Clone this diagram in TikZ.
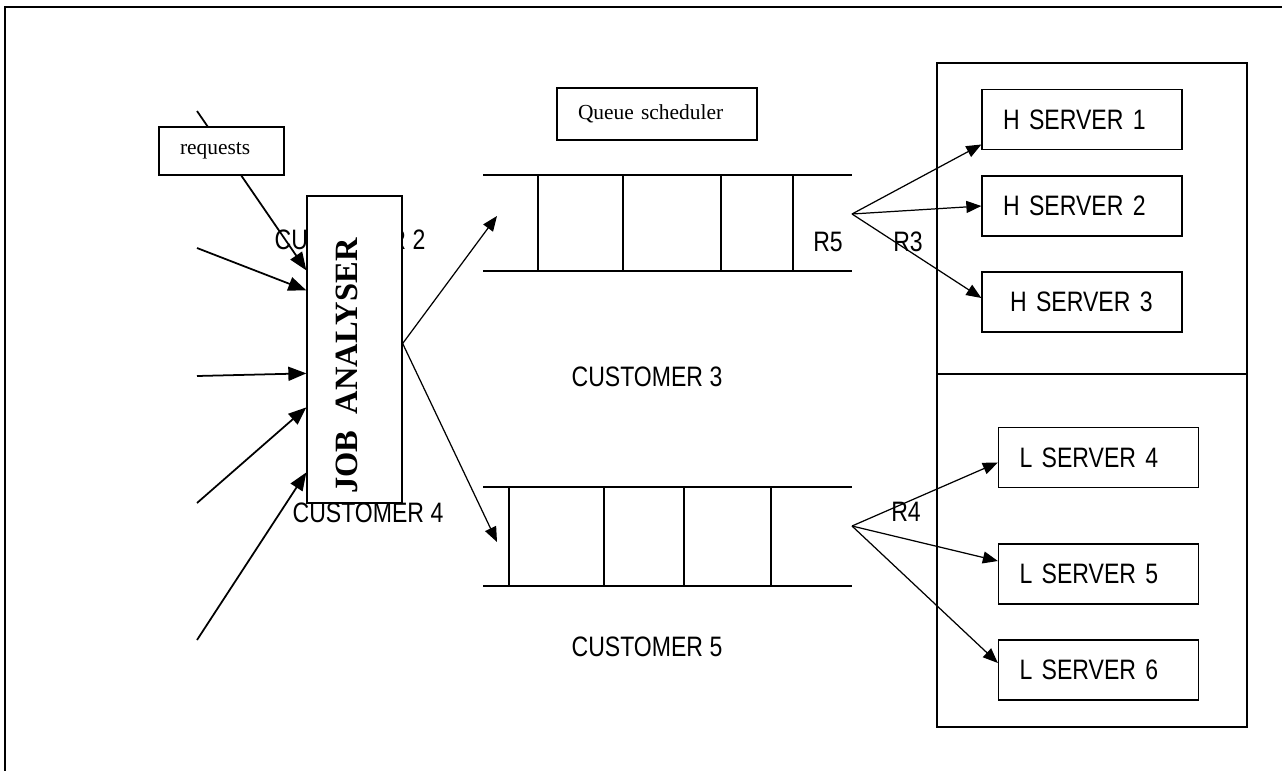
\documentclass[tikz,border=0pt]{standalone}
\usepackage{fontspec}
\setmainfont{Liberation Serif}
\newfontfamily\arialn[FakeStretch=0.82]{Liberation Sans}
\usetikzlibrary{calc, arrows.meta}

\begin{document}
\begin{tikzpicture}[x=0.02cm, y=-0.02cm,
    srv/.style={draw, fill=white, line width=0.75pt, inner xsep=0.42cm, inner ysep=0pt, align=left, text width=3.16cm, minimum height=1.2cm, font=\arialn\fontsize{16}{18}\selectfont},
    tbox/.style={srv, font=\fontsize{12.2}{14}\selectfont},
    lbl/.style={inner sep=0pt, font=\arialn\fontsize{16}{18}\selectfont},
    tip/.style={-{Triangle[length=0.3cm, width=0.24cm]}, line width=0.7pt},
    bigtip/.style={-{Triangle[length=0.36cm, width=0.28cm]}, line width=1pt},
    qline/.style={line width=0.75pt}]

    \useasboundingbox (0,0) rectangle (1282,771);

    % frame and server rack
    \draw[line width=0.9pt] (5,771) -- (5,7) -- (1282,7);
    \draw[qline] (937,63) rectangle (1247,727);
    \draw[qline] (937,374) -- (1247,374);

    \node[lbl] (cust2) at (350,240) {CUSTOMER 2};
    \node[lbl] (cust4) at (368,513) {CUSTOMER 4};
    \node[lbl] (cust3) at (647,377) {CUSTOMER 3};
    \node[lbl] (cust5) at (647,647) {CUSTOMER 5};

    % job analyser
    \node[draw, fill=white, line width=0.75pt, minimum width=1.9cm, minimum height=6.14cm, inner sep=0pt] (ja) at (354.5,349.5) {};
    \node[rotate=90, inner sep=0pt, font=\bfseries\fontsize{18.5}{20}\selectfont] (jatext) at (347,366) {JOB\hspace{0.5em}ANALYSER};

    \foreach \i/\sy in {1/111, 2/248, 3/376, 4/503, 5/640}
        \coordinate (in\i) at (197,\sy);
    \foreach \i/\dy in {1/75, 2/95, 3/178, 4/212, 5/277}
        \draw[bigtip] (in\i) -- ($(ja.north west)+(0,\dy)$);

    \node[tbox, text width=1.66cm, minimum height=0.96cm] (req) at (221.5,151) {requests};
    \node[tbox, minimum height=1.04cm] (qsched) at (657,114) {Queue scheduler};

    % queues
    \draw[qline] (483,175) -- (852,175) (483,271) -- (852,271);
    \foreach \x in {538,623,721,793}
        \draw[qline] (\x,175) -- (\x,271);
    \draw[qline] (483,487) -- (852,487) (483,586) -- (852,586);
    \foreach \x in {509,604,684,771}
        \draw[qline] (\x,487) -- (\x,586);

    \coordinate (jaout) at ($(ja.east)+(0,-6)$);
    \coordinate (qtop) at (497,216);
    \coordinate (qbot) at (497,542);
    \draw[tip] (jaout) -- (qtop);
    \draw[tip] (jaout) -- (qbot);

    \node[lbl] (r5) at (828,242) {R5};
    \node[lbl] (r3) at (908,242) {R3};
    \node[lbl] (r4) at (906,512) {R4};

    % servers
    \node[srv] (h1) at (1082,119.5) {H SERVER 1};
    \node[srv] (h2) at (1082,206) {H SERVER 2};
    \node[srv] (h3) at (1082,302) {\hspace*{0.14cm}H SERVER 3};
    \node[srv] (l4) at (1098.5,457.5) {L SERVER 4};
    \node[srv] (l5) at (1098.5,574) {L SERVER 5};
    \node[srv] (l6) at (1098.5,670) {L SERVER 6};

    \coordinate (fanH) at (852,214);
    \coordinate (fanL) at (852,526);
    \draw[tip] (fanH) -- ($(h1.west)+(0,25)$);
    \draw[tip] (fanH) -- (h2.west);
    \draw[tip] (fanH) -- ($(h3.west)+(0,-4)$);
    \draw[tip] (fanL) -- ($(l4.west)+(0,5)$);
    \draw[tip] (fanL) -- ($(l5.west)+(0,-13)$);
    \draw[tip] (fanL) -- ($(l6.west)+(0,-7)$);
\end{tikzpicture}
\end{document}
